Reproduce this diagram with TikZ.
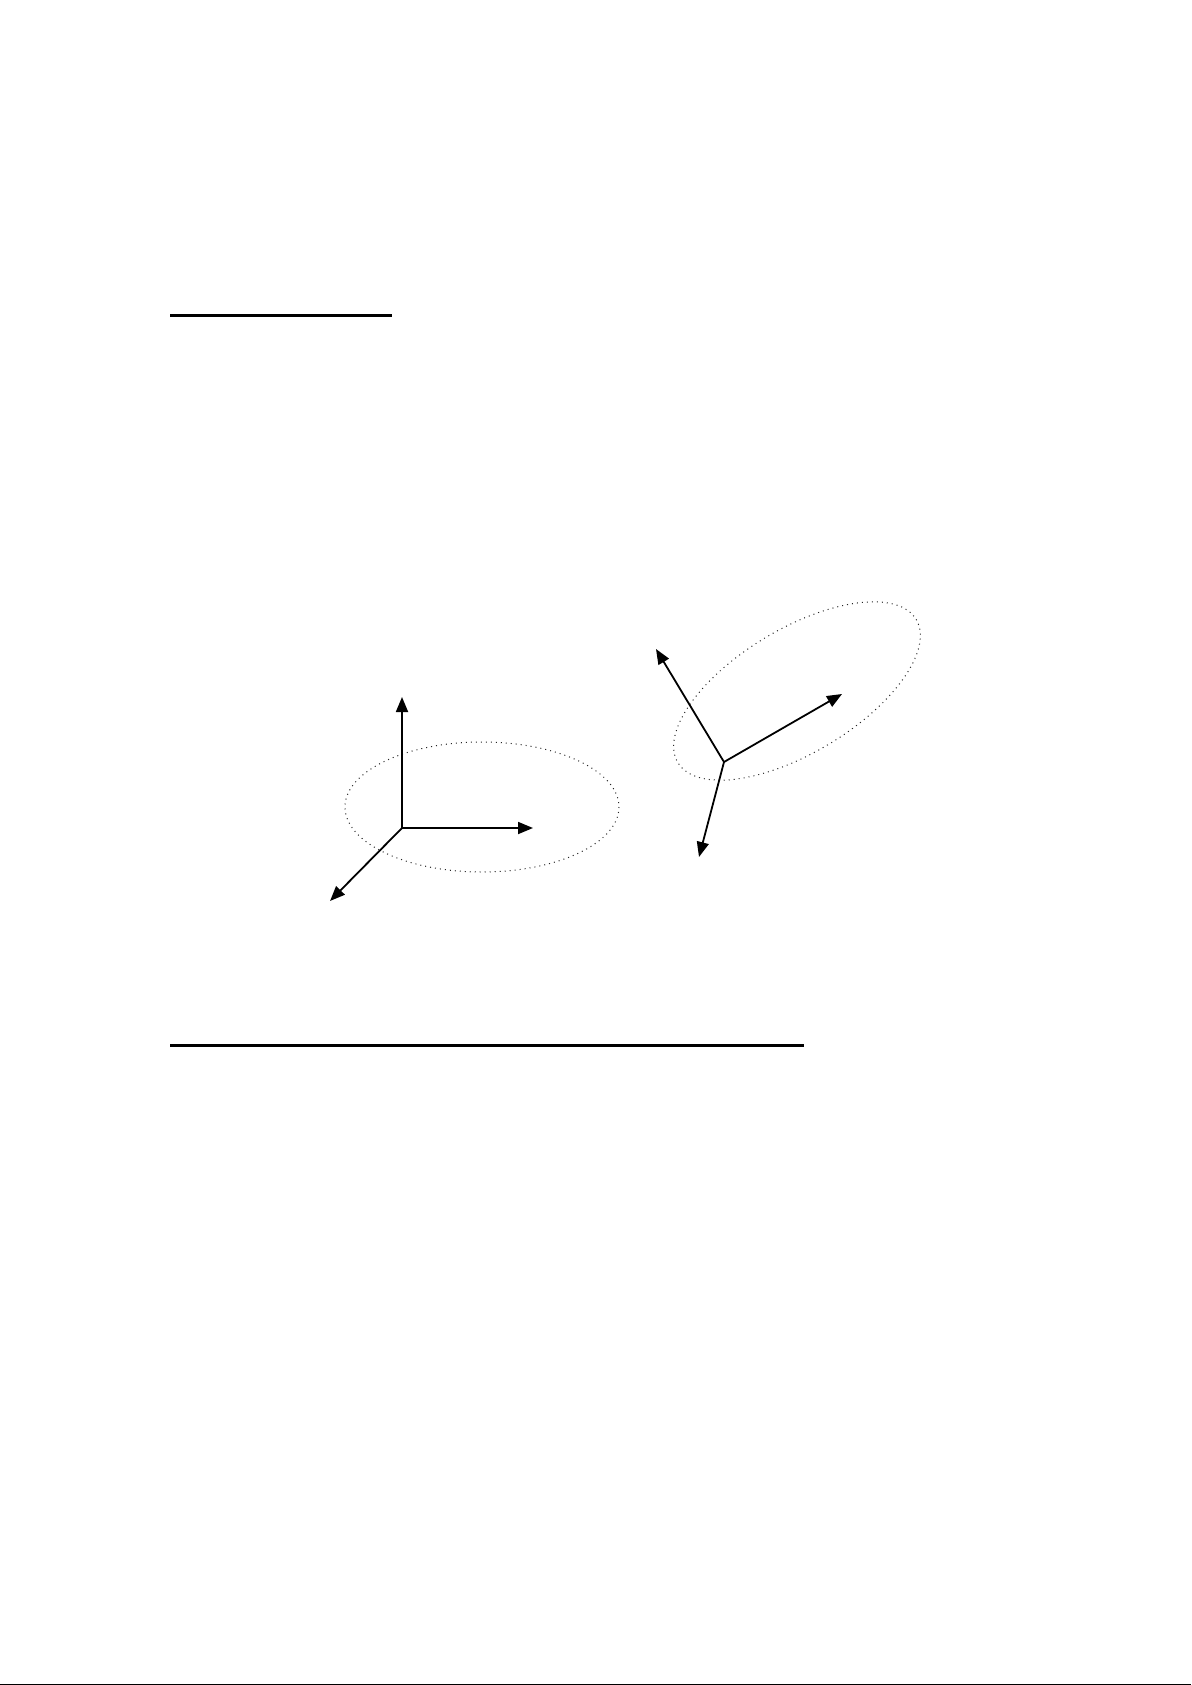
\documentclass[tikz,border=0pt]{standalone}
\usepackage{tikz}
\usetikzlibrary{arrows.meta}
\newcommand{\scl}[0] {1}

\begin{document}
\begin{tikzpicture}[x=0.5pt,y=-0.5pt,
        axis/.style={-{Triangle[length=7.5pt,width=6pt]}, line width=0.9pt},
        rule/.style={line width=1.5pt},
        orbit/.style={dotted, line width=0.5pt, draw=black!85}]
        \useasboundingbox (0,0) rectangle (1191,1685);

        %rules
        \coordinate (r1a) at (170, 315);
        \coordinate (r1b) at (392, 315);
        \coordinate (r2a) at (170, 1045);
        \coordinate (r2b) at (804, 1045);
        \coordinate (fa) at (0, 1684.5);
        \coordinate (fb) at (1191, 1684.5);
        \path[rule] (r1a) edge (r1b);
        \path[rule] (r2a) edge (r2b);
        \path[line width=0.5pt] (fa) edge (fb);

        %fixed frame
        \coordinate (o1) at (\scl*402, \scl*828);
        \coordinate (x1) at (\scl*533, \scl*828);
        \coordinate (y1) at (\scl*402, \scl*697);
        \coordinate (z1) at (\scl*330, \scl*901);
        \coordinate (c1) at (\scl*482, \scl*807);
        \draw[orbit] (c1) ellipse [x radius=137, y radius=65];
        \path[axis] (o1) edge (x1);
        \path[axis] (o1) edge (y1);
        \path[axis] (o1) edge (z1);

        %rotated frame
        \coordinate (o2) at (\scl*724, \scl*762);
        \coordinate (x2) at (\scl*842, \scl*694);
        \coordinate (y2) at (\scl*656, \scl*649);
        \coordinate (z2) at (\scl*699, \scl*857);
        \coordinate (c2) at (\scl*797, \scl*691);
        \draw[orbit, rotate around={31:(c2)}] (c2) ellipse [x radius=139, y radius=62];
        \path[axis] (o2) edge (x2);
        \path[axis] (o2) edge (y2);
        \path[axis] (o2) edge (z2);
\end{tikzpicture}
\end{document}
